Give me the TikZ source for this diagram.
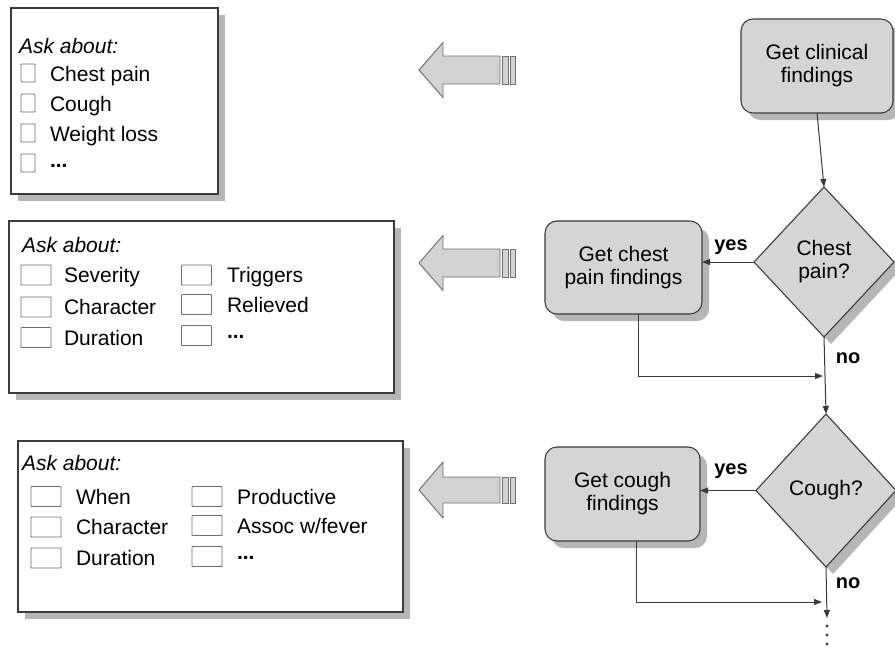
\documentclass[tikz,border=0pt]{standalone}
\usepackage{fontspec}
\setmainfont{Liberation Sans}
\usetikzlibrary{shapes.geometric,shadows,calc,arrows.meta}

\definecolor{edge}{HTML}{3A3A3A}
\definecolor{procfill}{HTML}{D5D5D5}
\definecolor{shade}{HTML}{B6B6B6}
\definecolor{arrowfill}{HTML}{D2D2D2}
\definecolor{arrowedge}{HTML}{6E6E6E}
\definecolor{tickedge}{HTML}{707070}

\begin{document}
\begin{tikzpicture}[x=0.75pt,y=-0.75pt,
  every node/.style={font=\fontsize{15.75}{17.25}\selectfont, inner sep=0pt, outer sep=0pt},
  boxshadow/.style={drop shadow={shadow xshift=5.25pt, shadow yshift=-5.25pt, fill=shade, opacity=1}},
  panel/.style={rectangle, draw=edge, line width=0.8pt, fill=white, boxshadow},
  process/.style={rectangle, draw=edge, line width=0.8pt, fill=procfill, rounded corners=9pt, align=center, boxshadow},
  decision/.style={diamond, draw=edge, line width=0.8pt, fill=procfill, align=center, boxshadow},
  tickbox/.style={rectangle, draw=tickedge, line width=0.7pt, fill=white, rounded corners=0.5pt},
  item/.style={anchor=base west},
  more/.style={anchor=west, font=\fontsize{15.75}{17.25}\selectfont\bfseries},
  head/.style={anchor=base west, font=\fontsize{15.75}{17.25}\selectfont\itshape},
  flow/.style={draw=edge, line width=0.75pt, -{Triangle[length=6pt,width=4.5pt]}},
  answer/.style={font=\fontsize{15}{17}\selectfont\bfseries},
  bigarrow/.style={draw=arrowedge, fill=arrowfill, line width=0.7pt, line join=miter}
]
\useasboundingbox (0,0) rectangle (895,658);

% ---- question panels ----
\node[panel, minimum width=155.25pt, minimum height=139.5pt] (p1) at (114.5,101) {};
\node[panel, minimum width=288.75pt, minimum height=129pt] (p2) at (201.5,307) {};
\node[panel, minimum width=288.75pt, minimum height=128.25pt] (p3) at (210.5,526.5) {};

% panel 1
\node[head] (p1h) at (19,53) {Ask about:};
\foreach \r/\y/\t in {a/73/{Chest pain}, b/103/{Cough}, c/133/{Weight loss}}{
  \node[tickbox, minimum width=10.5pt, minimum height=13.5pt] (p1t\r) at (28,\y) {};
  \node[item] (p1i\r) at (50,\y+8) {\t};
}
\node[tickbox, minimum width=10.5pt, minimum height=13.5pt] (p1td) at (28,163) {};
\node[more] (p1id) at (50,166) {...};

% panel 2
\node[head] (p2h) at (22,252) {Ask about:};
\foreach \r/\y/\t in {a/275/{Severity}, b/307/{Character}, c/337.5/{Duration}}{
  \node[tickbox, minimum width=22.5pt, minimum height=15pt] (p2l\r) at (36,\y) {};
  \node[item] (p2li\r) at (64,\y+7.5) {\t};
}
\foreach \r/\y/\t in {a/275/{Triggers}, b/304.5/{Relieved}}{
  \node[tickbox, minimum width=22.5pt, minimum height=15pt] (p2r\r) at (196.5,\y) {};
  \node[item] (p2ri\r) at (227,\y+7.5) {\t};
}
\node[tickbox, minimum width=22.5pt, minimum height=15pt] (p2rc) at (196.5,335.5) {};
\node[more] (p2ric) at (227,336.5) {...};

% panel 3
\node[head] (p3h) at (22,470) {Ask about:};
\foreach \r/\y/\t in {a/496.5/{When}, b/527/{Character}, c/558/{Duration}}{
  \node[tickbox, minimum width=22.5pt, minimum height=15pt] (p3l\r) at (46,\y) {};
  \node[item] (p3li\r) at (76,\y+7.5) {\t};
}
\foreach \r/\y/\t in {a/496.5/{Productive}, b/525.5/{Assoc w/fever}}{
  \node[tickbox, minimum width=22.5pt, minimum height=15pt] (p3r\r) at (207,\y) {};
  \node[item] (p3ri\r) at (237,\y+7.5) {\t};
}
\node[tickbox, minimum width=22.5pt, minimum height=15pt] (p3rc) at (207,556.5) {};
\node[more] (p3ric) at (237,557.5) {...};

% ---- block arrows pointing at the panels ----
\foreach \cy/\hh/\bh in {70/27.5/14, 263/27.5/14, 490/28/13}{
  \draw[bigarrow] (419,\cy) -- (443,\cy-\hh) -- (443,\cy-\bh) -- (500,\cy-\bh)
                  -- (500,\cy+\bh) -- (443,\cy+\bh) -- (443,\cy+\hh) -- cycle;
  \draw[bigarrow] (502.5,\cy-\bh) rectangle (508.5,\cy+\bh);
  \draw[bigarrow] (510.5,\cy-\bh) rectangle (515.5,\cy+\bh);
}

% ---- flowchart ----
\node[process, minimum width=114pt, minimum height=70.5pt] (clin) at (817,66) {Get clinical\\findings};
\node[decision, minimum width=105pt, minimum height=112.5pt] (cp) at (824,262) {Chest\\pain?};
\node[process, minimum width=117.75pt, minimum height=69.75pt] (cpbox) at (623.5,267.5) {Get chest\\pain findings};
\node[decision, minimum width=105pt, minimum height=114.75pt] (cg) at (826,490.5) {Cough?};
\node[process, minimum width=116.25pt, minimum height=70.5pt] (cgbox) at (622.5,494) {Get cough\\findings};

\coordinate (j1) at (823,376);
\coordinate (j2) at (822,602);
\coordinate (next) at (827,618);

\draw[flow] (clin.south) -- (cp.north);
\draw[flow] (cp.west) -- (cp.west -| cpbox.east);
\draw[flow] (cp.south) -- (cg.north);
\draw[flow] ($(cpbox.south)+(14.5,0)$) |- (j1);
\draw[flow] (cg.west) -- (cg.west -| cgbox.east);
\draw[flow] ($(cgbox.south)+(13.5,0)$) |- (j2);
\draw[flow] (cg.south) -- (next);
\foreach \y in {626,635,644}{ \fill[edge] (827,\y) circle (1.6); }

\node[answer] (yes1) at (731,247) {yes};
\node[answer] (no1) at (848,358) {no};
\node[answer] (yes2) at (731,471) {yes};
\node[answer] (no2) at (848,583) {no};
\end{tikzpicture}
\end{document}
